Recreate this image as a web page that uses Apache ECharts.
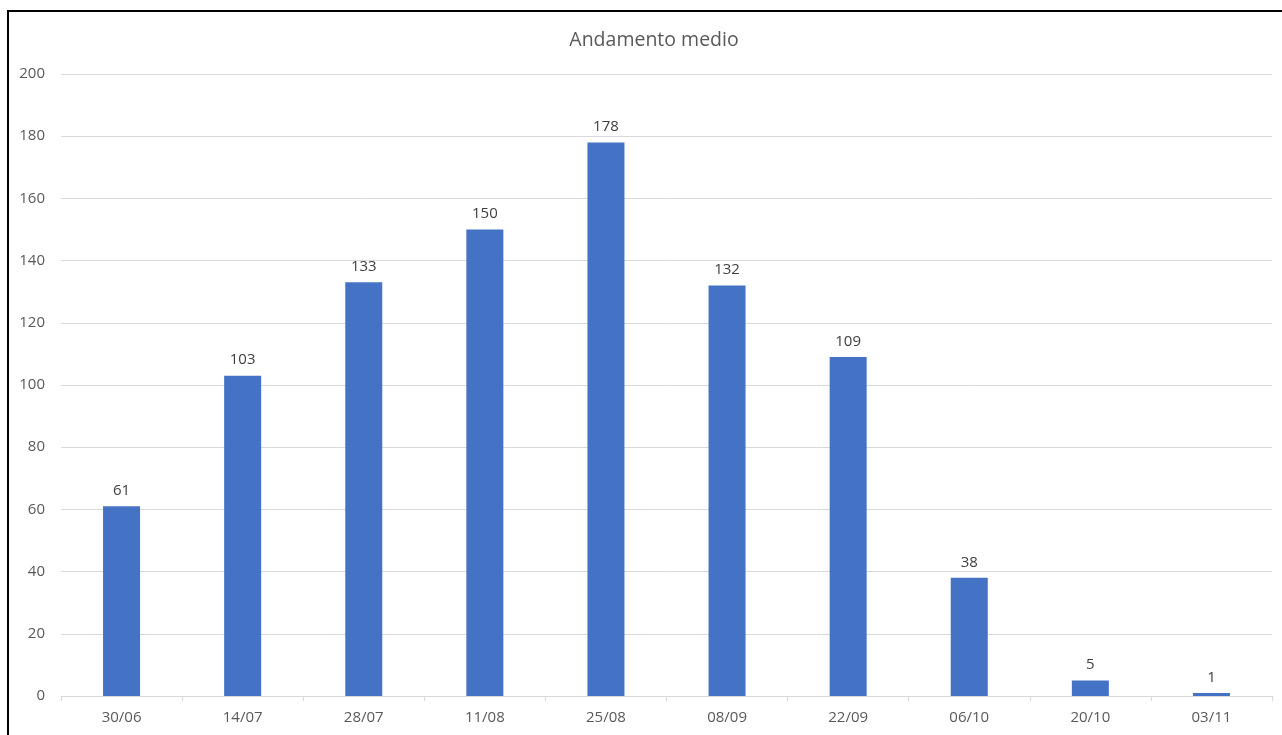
<!DOCTYPE html>
<html>
<head>
<meta charset="utf-8">
<script src="https://cdn.jsdelivr.net/npm/echarts@6/dist/echarts.min.js"></script>
<style>
html,body{margin:0;padding:0;background:#fff;}
#c{width:1282px;height:735px;position:relative;}
#frame{position:absolute;left:7px;top:10px;width:1300px;height:800px;border-left:2px solid #000;border-top:2px solid #000;pointer-events:none;}
</style>
</head>
<body>
<div id="c"></div>
<div id="frame"></div>
<script>
const categories = ['30/06','14/07','28/07','11/08','25/08','08/09','22/09','06/10','20/10','03/11'];
const values = [61,103,133,150,178,132,109,38,5,1];
const yTicks = {min:0, max:200, interval:20};
const titleText = 'Andamento medio';

const chart = echarts.init(document.getElementById('c'), null, {renderer:'canvas'});
const font = '"Open Sans", "Noto Sans", sans-serif';
chart.setOption({
  animation:false,
  backgroundColor:'#fff',
  title:{text:titleText, left:649, top:25, textAlign:'center',
    textStyle:{fontFamily:font, fontSize:19.5, fontWeight:'normal', color:'#595959'}},
  grid:{left:61, right:10, top:74, bottom:39, containLabel:false},
  xAxis:{type:'category', data:categories,
    axisLine:{lineStyle:{color:'#d9d9d9', width:1}},
    axisTick:{show:true, length:5, lineStyle:{color:'#d9d9d9'}},
    axisLabel:{fontFamily:font, fontSize:15, color:'#595959', margin:14}},
  yAxis:{type:'value', min:yTicks.min, max:yTicks.max, interval:yTicks.interval,
    axisLine:{show:false}, axisTick:{show:false},
    splitLine:{lineStyle:{color:'#d9d9d9', width:1}},
    axisLabel:{fontFamily:font, fontSize:15, color:'#595959', margin:16}},
  series:[{type:'bar', data:values, barWidth:37,
    itemStyle:{color:'#4472C4'},
    label:{show:true, position:'top', distance:8, fontFamily:font, fontSize:15, color:'#404040'}}]
});
</script>
</body>
</html>
